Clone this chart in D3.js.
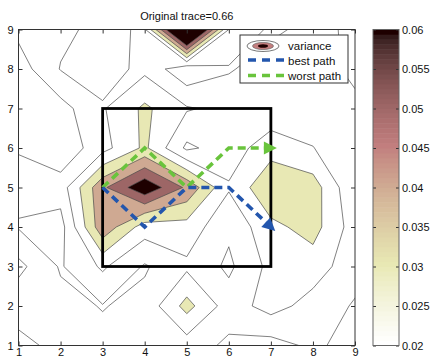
<!DOCTYPE html>
<html lang="en">
<head>
<meta charset="UTF-8">
<title>Original trace</title>
<script src="https://cdn.jsdelivr.net/npm/d3@7"></script>
<style>
    body { margin: 0; background: #fff; }
    text { font-family: "Liberation Sans", Arial, sans-serif; }
</style>
</head>
<body>
<div id="d3"></div>
<script>
    var width = 433;
    var height = 358;

    // grid positions
    var gridX = [1, 2, 3, 4, 5, 6, 7, 8, 9];
    var gridY = [1, 2, 3, 4, 5, 6, 7, 8, 9];

    // variance on the grid, one row per y (y = 1 first)
    var row1 = [0.008, 0.012, 0.013, 0.011, 0.015, 0.008, 0.006, 0.012, 0.006];
    var row2 = [0.013, 0.013, 0.0095, 0.013, 0.0336, 0.015, 0.024, 0.016, 0.009];
    var row3 = [0.0228, 0.009, 0.0216, 0.0089, 0.018, 0.008, 0.023, 0.025, 0.014];
    var row4 = [0.0093, 0.006, 0.0472, 0.025, 0.026, 0.012, 0.0273, 0.034, 0.015];
    var row5 = [0.0125, 0.0147, 0.048, 0.068, 0.048, 0.021, 0.039, 0.035, 0.011];
    var row6 = [0.0095, 0.0025, 0.0164, 0.032, 0.008, 0.015, 0.0256, 0.0203, 0.012];
    var row7 = [0.006, 0.0061, 0.019, 0.032, 0.021, 0.017, 0.013, 0.014, 0.011];
    var row8 = [0.005, 0.0205, 0.024, 0.0176, 0.002, 0.009, 0.015, 0.012, 0.009];
    var row9 = [0.0126, 0.0177, 0.023, 0.0185, 0.1, 0.02, 0.008, 0.013, 0.008];
    var variance = [row1, row2, row3, row4, row5, row6, row7, row8, row9];

    var levels = [0.01, 0.02, 0.03, 0.04, 0.05, 0.06];
    var colorRange = [0.02, 0.06];
    var cbTicks = [0.02, 0.025, 0.03, 0.035, 0.04, 0.045, 0.05, 0.055, 0.06];

    // paths through the grid
    var bestX = [3, 4, 5, 6, 7];
    var bestY = [5, 4, 5, 5, 4];
    var worstX = [3, 4, 5, 6, 7];
    var worstY = [5, 6, 5, 6, 6];

    // region box
    var boxX = [3, 7];
    var boxY = [3, 7];

    var titleText = "Original trace=0.66";
    var legendLabels = ["variance", "best path", "worst path"];

    var blue = "#2356ad";
    var green = "#69c43c";

    // matlab pink(64), flipped so low values are white
    function pinkMap(m) {
        var n = Math.floor(3 / 8 * m);
        var out = [];
        for (var k = 1; k <= m; k++) {
            var g = (k - 1) / (m - 1);
            var hr = k <= n ? k / n : 1;
            var hg = k <= n ? 0 : (k <= 2 * n ? (k - n) / n : 1);
            var hb = k <= 2 * n ? 0 : (k - 2 * n) / (m - 2 * n);
            out.push([hr, hg, hb].map(function (h) {
                return Math.round(255 * Math.sqrt((2 * g + h) / 3));
            }));
        }
        return out.reverse();
    }
    var cmap = pinkMap(64);

    function colorOf(v) {
        var t = (v - colorRange[0]) / (colorRange[1] - colorRange[0]);
        var i = Math.max(0, Math.min(63, Math.floor(t * 64)));
        var c = cmap[i];
        return "rgb(" + c[0] + "," + c[1] + "," + c[2] + ")";
    }

    var x = d3.scaleLinear().domain([1, 9]).range([18.5, 355]);
    var y = d3.scaleLinear().domain([1, 9]).range([345.5, 29.5]);

    var svg = d3.select("#d3")
            .append("svg")
            .attr("width", width)
            .attr("height", height);

    svg.append("defs").append("clipPath")
            .attr("id", "plotclip")
            .append("rect")
            .attr("x", x(1))
            .attr("y", y(9))
            .attr("width", x(9) - x(1))
            .attr("height", y(1) - y(9));

    svg.append("rect")
            .attr("x", x(1))
            .attr("y", y(9))
            .attr("width", x(9) - x(1))
            .attr("height", y(1) - y(9))
            .attr("fill", "#fff");

    // contours
    var values = [];
    variance.forEach(function (row) {
        row.forEach(function (v) { values.push(v); });
    });

    var contours = d3.contours()
            .size([gridX.length, gridY.length])
            .thresholds(levels)(values);

    var proj = d3.geoTransform({
        point: function (px, py) {
            this.stream.point(x(gridX[0] + px - 0.5), y(gridY[0] + py - 0.5));
        }
    });
    var path = d3.geoPath(proj);

    svg.append("g")
            .attr("clip-path", "url(#plotclip)")
            .selectAll("path")
            .data(contours)
            .enter()
            .append("path")
            .attr("d", path)
            .attr("fill", function (d) { return colorOf(d.value); })
            .attr("stroke", "#4a4a4a")
            .attr("stroke-width", 0.7)
            .attr("stroke-linejoin", "round");

    // black region box
    svg.append("rect")
            .attr("x", x(boxX[0]))
            .attr("y", y(boxY[1]))
            .attr("width", x(boxX[1]) - x(boxX[0]))
            .attr("height", y(boxY[0]) - y(boxY[1]))
            .attr("fill", "none")
            .attr("stroke", "#000")
            .attr("stroke-width", 2.8);

    // dashed paths with arrow heads
    function drawPath(xs, ys, color) {
        var pts = xs.map(function (v, i) { return [x(v), y(ys[i])]; });
        var n = pts.length;
        var a = pts[n - 2], b = pts[n - 1];
        var len = Math.hypot(b[0] - a[0], b[1] - a[1]);
        var ux = (b[0] - a[0]) / len, uy = (b[1] - a[1]) / len;
        var base = [b[0] - 7 * ux, b[1] - 7 * uy];
        var tip = [b[0] + 6 * ux, b[1] + 6 * uy];
        var line = pts.slice(0, n - 1).concat([base]);

        svg.append("path")
                .attr("d", d3.line()(line))
                .attr("fill", "none")
                .attr("stroke", color)
                .attr("stroke-width", 3.6)
                .attr("stroke-dasharray", "8,5");

        svg.append("path")
                .attr("d", d3.line()([
                    tip,
                    [base[0] - 6.5 * uy, base[1] + 6.5 * ux],
                    [base[0] + 6.5 * uy, base[1] - 6.5 * ux]
                ]) + "Z")
                .attr("fill", color);
    }
    drawPath(worstX, worstY, green);
    drawPath(bestX, bestY, blue);

    // axes, ticks inside like matlab
    function styleAxis(g) {
        g.select(".domain").remove();
        g.selectAll(".tick line").attr("stroke", "#333");
        g.selectAll("text")
                .attr("fill", "#111")
                .style("font-size", "11px")
                .style("font-family", "'Liberation Sans', Arial, sans-serif");
    }

    svg.append("g")
            .attr("transform", "translate(0," + y(1) + ")")
            .call(d3.axisBottom(x).tickValues(gridX).tickSizeInner(-4).tickSizeOuter(0).tickPadding(3))
            .call(styleAxis);
    svg.append("g")
            .attr("transform", "translate(0," + y(9) + ")")
            .call(d3.axisTop(x).tickValues(gridX).tickSizeInner(-4).tickSizeOuter(0).tickFormat(""))
            .call(styleAxis);
    svg.append("g")
            .attr("transform", "translate(" + x(1) + ",0)")
            .call(d3.axisLeft(y).tickValues(gridY).tickSizeInner(-4).tickSizeOuter(0).tickPadding(5))
            .call(styleAxis);
    svg.append("g")
            .attr("transform", "translate(" + x(9) + ",0)")
            .call(d3.axisRight(y).tickValues(gridY).tickSizeInner(-4).tickSizeOuter(0).tickFormat(""))
            .call(styleAxis);

    svg.append("rect")
            .attr("x", x(1))
            .attr("y", y(9))
            .attr("width", x(9) - x(1))
            .attr("height", y(1) - y(9))
            .attr("fill", "none")
            .attr("stroke", "#333")
            .attr("stroke-width", 1);

    // title
    svg.append("text")
            .attr("x", (x(1) + x(9)) / 2)
            .attr("y", 19.5)
            .attr("text-anchor", "middle")
            .style("font-size", "11px")
            .attr("fill", "#111")
            .text(titleText);

    // legend
    var legend = svg.append("g").attr("transform", "translate(240,35)");
    legend.append("rect")
            .attr("width", 108)
            .attr("height", 48)
            .attr("fill", "#fff")
            .attr("stroke", "#333")
            .attr("stroke-width", 1);

    legend.append("ellipse").attr("cx", 23).attr("cy", 11).attr("rx", 16).attr("ry", 5.5)
            .attr("fill", "#fff").attr("stroke", "#555").attr("stroke-width", 0.8);
    legend.append("ellipse").attr("cx", 23).attr("cy", 11).attr("rx", 10.5).attr("ry", 3.6)
            .attr("fill", colorOf(0.045)).attr("stroke", "#555").attr("stroke-width", 0.6);
    legend.append("ellipse").attr("cx", 23).attr("cy", 11).attr("rx", 5).attr("ry", 1.8)
            .attr("fill", colorOf(0.06));

    legend.append("line").attr("x1", 8).attr("x2", 45).attr("y1", 25).attr("y2", 25)
            .attr("stroke", blue).attr("stroke-width", 3.6).attr("stroke-dasharray", "8,6");
    legend.append("line").attr("x1", 8).attr("x2", 45).attr("y1", 40.5).attr("y2", 40.5)
            .attr("stroke", green).attr("stroke-width", 3.6).attr("stroke-dasharray", "8,6");

    legend.selectAll("text.lab")
            .data(legendLabels)
            .enter()
            .append("text")
            .attr("class", "lab")
            .attr("x", 48)
            .attr("y", function (d, i) { return 15 + i * 15; })
            .style("font-size", "11.5px")
            .attr("fill", "#111")
            .text(function (d) { return d; });

    // colorbar
    var cbX = 373, cbW = 26;
    var cy = d3.scaleLinear().domain(colorRange).range([345.5, 29.5]);
    var steps = d3.range(64);
    var stepV = (colorRange[1] - colorRange[0]) / 64;
    svg.append("g")
            .selectAll("rect")
            .data(steps)
            .enter()
            .append("rect")
            .attr("x", cbX)
            .attr("width", cbW)
            .attr("y", function (k) { return cy(colorRange[0] + (k + 1) * stepV); })
            .attr("height", function (k) { return cy(colorRange[0] + k * stepV) - cy(colorRange[0] + (k + 1) * stepV) + 0.5; })
            .attr("fill", function (k) { return colorOf(colorRange[0] + (k + 0.5) * stepV); });

    svg.append("g")
            .attr("transform", "translate(" + (cbX + cbW) + ",0)")
            .call(d3.axisRight(cy).tickValues(cbTicks).tickSizeInner(-3).tickSizeOuter(0).tickPadding(3)
                    .tickFormat(function (d) { return String(d); }))
            .call(styleAxis);
    svg.append("g")
            .attr("transform", "translate(" + cbX + ",0)")
            .call(d3.axisLeft(cy).tickValues(cbTicks).tickSizeInner(-3).tickSizeOuter(0).tickFormat(""))
            .call(styleAxis);

    svg.append("rect")
            .attr("x", cbX)
            .attr("y", cy(colorRange[1]))
            .attr("width", cbW)
            .attr("height", cy(colorRange[0]) - cy(colorRange[1]))
            .attr("fill", "none")
            .attr("stroke", "#666")
            .attr("stroke-width", 1);
</script>
</body>
</html>
